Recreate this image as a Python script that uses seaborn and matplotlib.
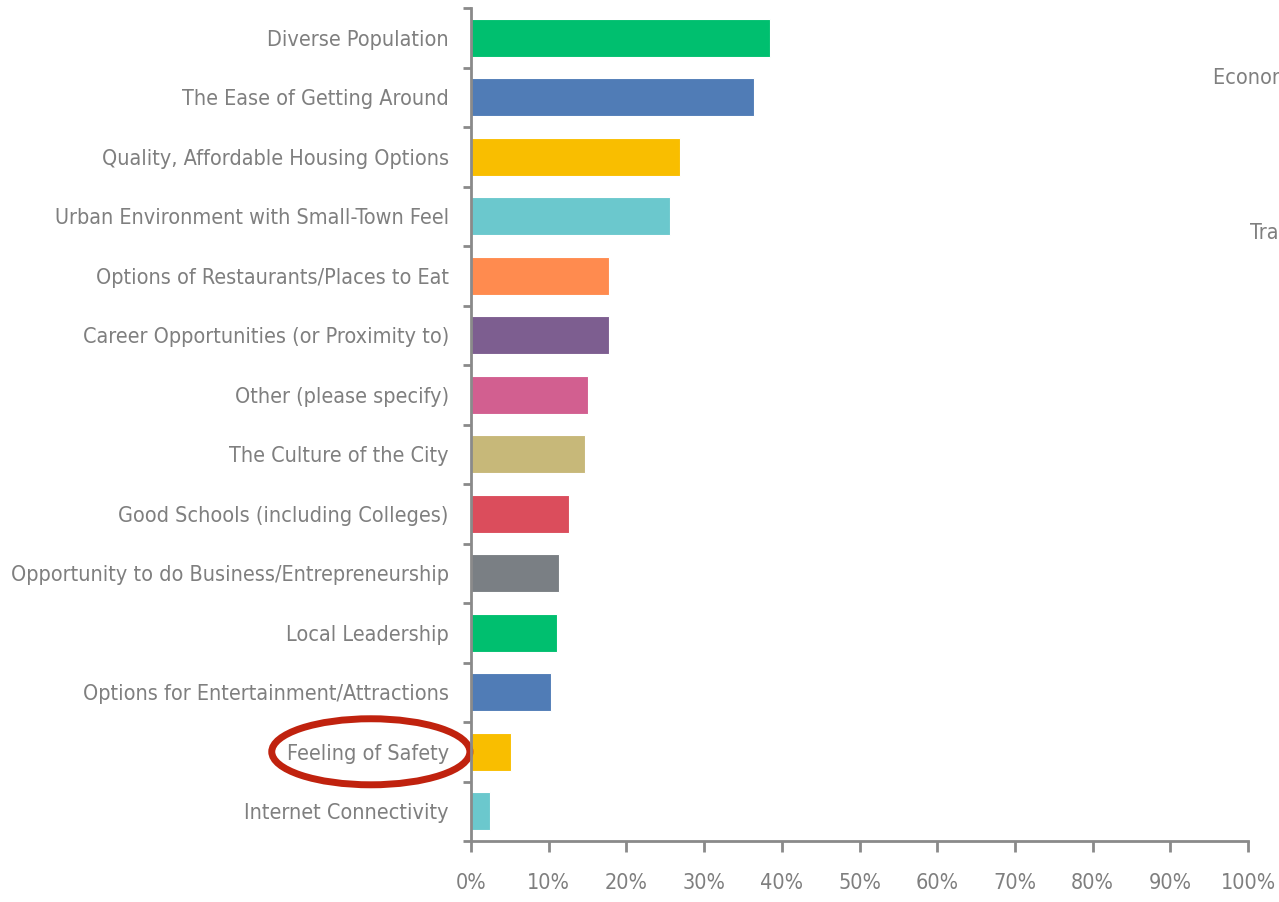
import matplotlib
matplotlib.use("Agg")
import matplotlib.pyplot as plt
import seaborn as sns
import pandas as pd
from matplotlib.patches import Ellipse
from matplotlib.ticker import PercentFormatter

# categories and shares (percent of respondents)
categories = [
    "Diverse Population",
    "The Ease of Getting Around",
    "Quality, Affordable Housing Options",
    "Urban Environment with Small-Town Feel",
    "Options of Restaurants/Places to Eat",
    "Career Opportunities (or Proximity to)",
    "Other (please specify)",
    "The Culture of the City",
    "Good Schools (including Colleges)",
    "Opportunity to do Business/Entrepreneurship",
    "Local Leadership",
    "Options for Entertainment/Attractions",
    "Feeling of Safety",
    "Internet Connectivity",
]
shares = [38.5, 36.4, 26.9, 25.6, 17.7, 17.7, 15.1, 14.7, 12.6, 11.3, 11.0, 10.3, 5.1, 2.5]
bar_colors = ["#00BF6F", "#507CB6", "#F9BE00", "#6BC8CD", "#FF8B4F", "#7D5E90", "#D25F90",
              "#C7B879", "#DB4D5C", "#7A7F84", "#00BF6F", "#507CB6", "#F9BE00", "#6BC8CD"]
x_ticks = [0, 10, 20, 30, 40, 50, 60, 70, 80, 90, 100]
highlight = "Feeling of Safety"

df = pd.DataFrame({"category": categories, "share": shares})

sns.set_style("white")
plt.rcParams["font.family"] = ["Liberation Sans Narrow", "DejaVu Sans"]
plt.rcParams["font.stretch"] = "condensed"
grey = "#7f7f7f"
fs = 15.5

fig = plt.figure(figsize=(12.79, 9.02), dpi=100)
ax = fig.add_axes([0.3683, 0.0676, 0.6075, 0.9235])

sns.barplot(data=df, x="share", y="category", hue="category", palette=bar_colors,
            saturation=1, legend=False, width=0.64, edgecolor="white", linewidth=0.8, ax=ax)

ax.set_xlim(0, 100)
ax.set_xticks(x_ticks)
ax.xaxis.set_major_formatter(PercentFormatter(decimals=0))
ax.set_xlabel("")
ax.set_ylabel("")

# ticks on category boundaries
ax.set_yticks(range(len(categories)))
ax.set_yticklabels(categories)
ax.set_yticks([i - 0.5 for i in range(len(categories) + 1)], minor=True)
ax.tick_params(axis="y", which="major", length=0, pad=16, labelsize=fs, labelcolor=grey)
ax.tick_params(axis="y", which="minor", length=6, width=2, color="#8a8a8a", left=True)
ax.tick_params(axis="x", length=8, width=2, color="#8a8a8a", pad=15,
               labelsize=fs, labelcolor=grey, bottom=True)
ax.set_ylim(len(categories) - 0.5, -0.5)

sns.despine(ax=ax, top=True, right=True)
for side in ["left", "bottom"]:
    ax.spines[side].set_color("#8a8a8a")
    ax.spines[side].set_linewidth(2)

# red circle around the highlighted label
idx = categories.index(highlight)
ax.add_patch(Ellipse((-12.9, idx), width=25.5, height=1.11, fill=False,
                     edgecolor="#C0220E", linewidth=5, clip_on=False))

# fragments of a neighbouring chart cut off at the right edge
fig.text(1213 / 1279, 1 - 78 / 902, "Economic Development", fontsize=fs, color=grey, va="center")
fig.text(1250 / 1279, 1 - 233 / 902, "Transportation", fontsize=fs, color=grey, va="center")

fig.savefig("out.png", dpi=100)
